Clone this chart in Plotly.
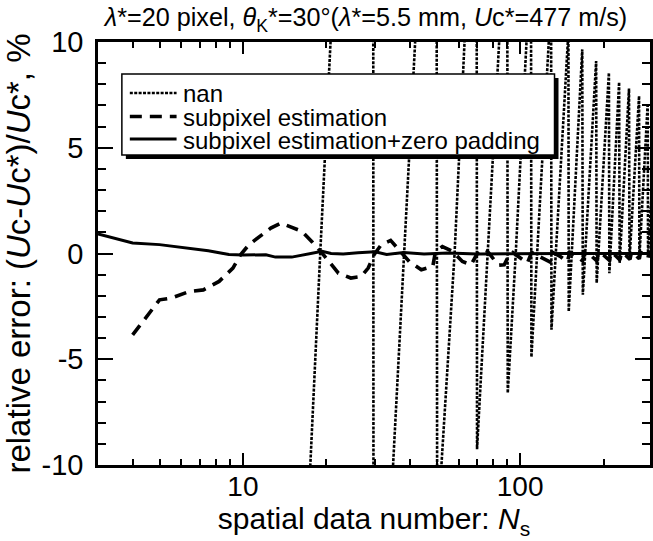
import math
import plotly.graph_objects as go

# ---- data ----
nan_N = [10, 17.5, 19.0, 20.7, 29.4, 29.6, 34.8, 38.2, 41.8, 49.8, 50.2, 52.0, 58.0, 63.0,
         69.6, 69.9, 76.4, 84.3, 89.8, 90.2, 96.4, 105.4, 109.4, 109.8, 126.7, 129.3, 129.7,
         148.8, 149.3, 149.7, 167.5, 168.3, 188.0, 188.8, 209.0, 209.8, 227.5, 228.5,
         247.0, 248.0, 268.5, 269.2, 288.5, 289.3, 300]
nan_err = [-48, -10, 0, 10, 62, -25, -10, 0, 10, 34, -14, -10, 0, 10,
           22, -9.25, 0, 10, 17, -6.6, 0, 10, 14, -4.9, 10, 12, -3.6,
           10, 10.5, -2.75, 9.65, -1.95, 9.1, -1.4, 8.55, -0.93, 8.1, -0.45,
           7.8, -0.3, 7.45, -0.2, 7.1, -0.1, 3.5]

sub_N = [4, 5, 5.5, 6.4, 7.2, 8.2, 9.2, 9.8, 10.5, 12.6, 13.7, 16.3, 17.7, 19.3, 22.1, 24.5,
         26.7, 28.3, 29.7, 31.5, 34.1, 37.7, 39.8, 44, 48.4, 49.5, 52.4, 57.1, 61.9, 66.5,
         69.6, 73, 76.3, 80.6, 84, 87.6, 91.3, 94, 96.5, 106.2, 110, 118, 128, 131, 140, 148,
         151, 160, 168, 171, 180, 189, 192, 201, 210, 213, 220, 229, 232, 240, 249, 252, 260,
         269, 272, 280, 289, 292, 300]
sub_err = [-3.85, -2.19, -2.11, -1.8, -1.72, -1.32, -0.69, -0.06, 0.41, 1.2, 1.44, 1.05, 0.57,
           0.02, -0.93, -1.16, -1.09, -0.69, -0.06, 0.41, 0.62, -0.06, -0.38, -0.77, -0.61,
           0.1, 0.33, 0.1, -0.38, -0.53, -0.06, 0.2, 0.1, -0.3, -0.55, -0.53, -0.06, 0.05,
           -0.06, -0.45, 0.05, -0.15, -0.4, 0.05, -0.15, -0.38, 0.05, -0.12, -0.35, 0.05,
           -0.1, -0.35, 0.05, -0.1, -0.32, 0.05, -0.08, -0.3, 0.05, -0.08, -0.28, 0.05,
           -0.05, -0.25, 0.05, -0.05, -0.22, 0.05, -0.05]

zp_N = [3, 4, 5, 6.4, 7.5, 8.9, 10, 12.1, 13.1, 15, 17, 19.3, 20.8, 23, 26, 30, 33, 38, 45,
        55, 70, 100, 150, 200, 300]
zp_err = [0.93, 0.5, 0.42, 0.26, 0.13, -0.05, -0.07, -0.06, -0.17, -0.17, -0.05, 0.1, 0.0,
          -0.02, 0.03, 0.08, -0.05, 0.05, -0.02, 0.02, -0.02, 0.0, 0.0, 0.0, 0.0]

series_names = ["nan", "subpixel estimation", "subpixel estimation+zero padding"]

x_major = [10, 100]
x_minor = [4, 5, 6, 7, 8, 9, 20, 30, 40, 50, 60, 70, 80, 90, 200]
y_major = [-10, -5, 0, 5, 10]
y_major_text = ["-10", "-5", "0", "5", "10"]

FONT = "Liberation Sans, Arial, Helvetica, sans-serif"
styles = [dict(color="black", width=2.6, dash="3px,1.4px"),
          dict(color="black", width=3.6, dash="12px,8px"),
          dict(color="black", width=3)]

fig = go.Figure()
for xs, ys, nm, st in zip([nan_N, sub_N, zp_N], [nan_err, sub_err, zp_err], series_names, styles):
    fig.add_trace(go.Scatter(x=xs, y=ys, mode="lines", name=nm, line=st, showlegend=False))

W, H = 653, 541
L, R, T, B = 98, 0, 42, 76
pw, ph = W - L - R, H - T - B

def px(x):
    return (x - L) / pw

def py(y):
    return (H - B - y) / ph

# ---- legend drawn as a shadowed box ----
shapes = [
    dict(type="rect", xref="paper", yref="paper", layer="above",
         x0=px(126), x1=px(561), y0=py(78), y1=py(159),
         fillcolor="black", line=dict(width=0)),
    dict(type="rect", xref="paper", yref="paper", layer="above",
         x0=px(122), x1=px(557), y0=py(74), y1=py(155),
         fillcolor="white", line=dict(color="black", width=1.5)),
]
annotations = []
row_y = [93, 116.5, 139]
for nm, st, ry in zip(series_names, styles, row_y):
    shapes.append(dict(type="line", xref="paper", yref="paper", layer="above",
                       x0=px(130), x1=px(177), y0=py(ry), y1=py(ry), line=st))
    annotations.append(dict(text=nm, xref="paper", yref="paper", x=px(181), y=py(ry + 1),
                            xanchor="left", yanchor="middle", showarrow=False,
                            font=dict(size=24, family=FONT, color="black")))

fig.update_layout(
    width=W, height=H,
    margin=dict(l=L, r=R, t=T, b=B, pad=0),
    paper_bgcolor="white", plot_bgcolor="white",
    font=dict(family=FONT, color="black", size=24),
    title=dict(text="<i>λ</i>*=20 pixel, <i>θ</i><sub>K</sub>*=30°(<i>λ</i>*=5.5 mm, <i>U</i>c*=477 m/s)",
               x=366 / W, xanchor="center", y=0.984, yanchor="top",
               font=dict(size=25.2, family=FONT)),
    showlegend=False,
    shapes=shapes,
    annotations=annotations,
    xaxis=dict(type="log", range=[math.log10(3), 2.4684],
               showline=True, linecolor="black", linewidth=2.5, mirror="allticks",
               ticks="inside", ticklen=12, tickwidth=1.5, tickcolor="black",
               tickmode="array", tickvals=x_major, ticktext=[str(v) for v in x_major],
               tickfont=dict(size=28, family=FONT), ticklabelstandoff=-5,
               minor=dict(ticks="inside", ticklen=6, tickwidth=1.5, tickcolor="black",
                          tickmode="array", tickvals=x_minor, showgrid=False),
               showgrid=False, zeroline=False,
               title=dict(text="spatial data number: <i>N</i><sub>s</sub>",
                          font=dict(size=30, family=FONT), standoff=6)),
    yaxis=dict(range=[-10, 10],
               showline=True, linecolor="black", linewidth=2.5, mirror="allticks",
               ticks="inside", ticklen=15, tickwidth=1.5, tickcolor="black",
               tickmode="array", tickvals=y_major, ticktext=y_major_text,
               tickfont=dict(size=29, family=FONT), ticklabelstandoff=6,
               minor=dict(ticks="inside", ticklen=8, tickwidth=1.5, tickcolor="black",
                          dtick=1, tick0=0, showgrid=False),
               showgrid=False, zeroline=False,
               title=dict(text="relative error: (<i>U</i>c-<i>U</i>c*)/<i>U</i>c*, %",
                          font=dict(size=33, family=FONT), standoff=4)),
)

fig.write_html("out.html")
